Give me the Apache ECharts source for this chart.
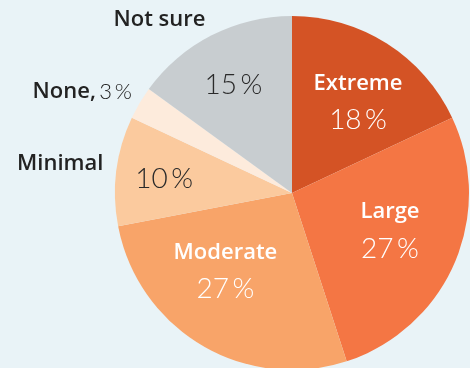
<!DOCTYPE html>
<html><head><meta charset="utf-8">
<script src="https://cdn.jsdelivr.net/npm/echarts@6/dist/echarts.min.js"></script>
<style>html,body{margin:0;padding:0;background:#e9f3f7}#c{width:470px;height:368px}</style>
</head><body><div id="c"></div>
<script>
const categories = ['Extreme', 'Large', 'Moderate', 'Minimal', 'None', 'Not sure'];
const values = [18, 27, 27, 10, 3, 15];
const colors = ['#d45325', '#f47644', '#f8a469', '#fbca9e', '#fdebdc', '#c8cdd0'];
// label style per category: inside (white name + pct), or split (outside dark name, inside dark pct)
const insideMode = ['full', 'full', 'full', 'pct', 'none', 'pct'];
const insideOffset = [[17, -14], [14, 1], [-20, -1], [-37, -3], [0, 0], [-17, -27]];
const outerOffset = [null, null, null, [-141, -18], [-131, -55], [-91, -92]];

const NAME_FONT = '"Open Sans", sans-serif';
const PCT_FONT = 'Lato, sans-serif';
const fmtPct = v => v + '\u2009%';

const chart = echarts.init(document.getElementById('c'), null, {renderer: 'canvas'});
const mainData = categories.map((n, i) => {
  const mode = insideMode[i];
  let label;
  if (mode === 'full') {
    label = {show: true, position: 'inside', offset: insideOffset[i],
      formatter: '{n|' + n + '}\n{p|' + fmtPct(values[i]) + '}',
      rich: {n: {fontFamily: NAME_FONT, fontSize: 22, fontWeight: 600, color: '#fff', lineHeight: 37, align: 'center'},
             p: {fontFamily: PCT_FONT, fontSize: 28, fontWeight: 300, color: '#fff', lineHeight: 37, align: 'center'}}};
  } else if (mode === 'pct') {
    label = {show: true, position: 'inside', offset: insideOffset[i],
      formatter: '{p|' + fmtPct(values[i]) + '}',
      rich: {p: {fontFamily: PCT_FONT, fontSize: 28, fontWeight: 300, color: '#2a2a2a'}}};
  } else {
    label = {show: false};
  }
  return {name: n, value: values[i], itemStyle: {color: colors[i]}, label};
});
const outerData = categories.map((n, i) => {
  const off = outerOffset[i];
  if (!off) return {name: n, value: values[i], label: {show: false}};
  const txt = insideMode[i] === 'none'
    ? '{n|' + n + ',} {p|' + fmtPct(values[i]) + '}'
    : '{n|' + n + '}';
  return {name: n, value: values[i], label: {show: true, position: 'inside', offset: off, formatter: txt,
    rich: {n: {fontFamily: NAME_FONT, fontSize: 22, fontWeight: 600, color: '#222'},
           p: {fontFamily: PCT_FONT, fontSize: 22, fontWeight: 300, color: '#222'}}}};
});

chart.setOption({
  backgroundColor: '#e9f3f7',
  animation: false,
  series: [
    {type: 'pie', center: [292, 193], radius: [0, 177], startAngle: 90, clockwise: true,
     labelLine: {show: false}, itemStyle: {borderWidth: 0}, emphasis: {disabled: true},
     data: mainData},
    {type: 'pie', center: [292, 193], radius: [0, 177], startAngle: 90, clockwise: true, silent: true,
     labelLine: {show: false}, itemStyle: {color: 'rgba(0,0,0,0)', borderWidth: 0}, emphasis: {disabled: true},
     data: outerData}
  ]
});
</script></body></html>
